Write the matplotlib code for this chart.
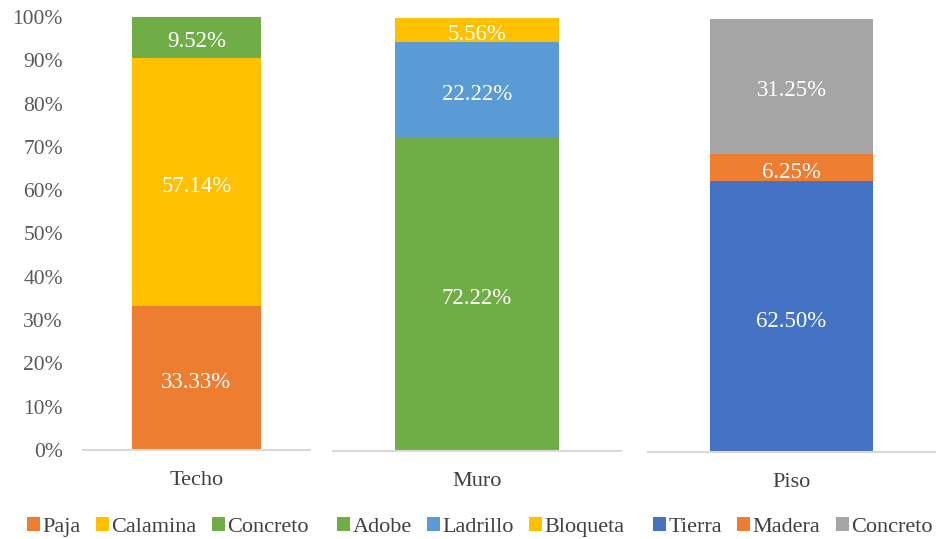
import matplotlib
matplotlib.use("Agg")
import matplotlib.pyplot as plt
from matplotlib.patches import Patch

plt.rcParams['font.family'] = ['Liberation Serif', 'DejaVu Serif']

categories = ["Techo", "Muro", "Piso"]
techo_labels = ["Paja", "Calamina", "Concreto"]
techo_values = [33.33, 57.14, 9.52]
muro_labels = ["Adobe", "Ladrillo", "Bloqueta"]
muro_values = [72.22, 22.22, 5.56]
piso_labels = ["Tierra", "Madera", "Concreto"]
piso_values = [62.50, 6.25, 31.25]
yticks = [0, 10, 20, 30, 40, 50, 60, 70, 80, 90, 100]

techo_colors = ["#ED7D31", "#FFC000", "#70AD47"]
muro_colors = ["#70AD47", "#5B9BD5", "#FFC000"]
piso_colors = ["#4472C4", "#ED7D31", "#A5A5A5"]

W, H = 941, 539
fig = plt.figure(figsize=(W / 100, H / 100), dpi=100)

def px_axes(x0, x1, ytop, ybot):
    return fig.add_axes([x0 / W, (H - ybot) / H, (x1 - x0) / W, (ybot - ytop) / H])

panels = [
    (categories[0], techo_labels, techo_values, techo_colors, (83, 310, 17, 450), 27),
    (categories[1], muro_labels, muro_values, muro_colors, (333, 621, 18, 451), 337),
    (categories[2], piso_labels, piso_values, piso_colors, (648, 935, 19, 452), 653),
]

for i, (cat, labels, values, colors, box, legx) in enumerate(panels):
    ax = px_axes(*box)
    bottom = 0
    handles = []
    for lab, v, c in zip(labels, values, colors):
        ax.bar([cat], [v], bottom=bottom, width=0.571, color=c, edgecolor='none')
        ax.text(0, bottom + v / 2 - 1.0, f"{v:.2f}%", ha='center', va='center',
                color='white', fontsize=16.5)
        bottom += v
        handles.append(Patch(facecolor=c, edgecolor='none', label=lab))
    ax.set_xlim(-0.5, 0.5)
    ax.set_ylim(0, 100)
    for s in ['top', 'right', 'left']:
        ax.spines[s].set_visible(False)
    ax.spines['bottom'].set_color('#D9D9D9')
    ax.spines['bottom'].set_linewidth(1.5)
    ax.tick_params(axis='x', length=0, labelsize=16, labelcolor='#404040', pad=15)
    if i == 0:
        ax.set_yticks(yticks)
        ax.set_yticklabels([f"{t}%" for t in yticks])
        ax.tick_params(axis='y', length=0, labelsize=15.5, labelcolor='#595959', pad=14.4)
    else:
        ax.set_yticks([])
    fig.legend(handles=handles, loc='center left',
               bbox_to_anchor=(legx / W, (H - 527) / H), ncol=3,
               frameon=False, fontsize=16, handlelength=0.58, handleheight=0.58,
               handletextpad=0.12, columnspacing=0.68, borderpad=0,
               borderaxespad=0, labelcolor='#404040')

fig.savefig("out.png", dpi=100)
